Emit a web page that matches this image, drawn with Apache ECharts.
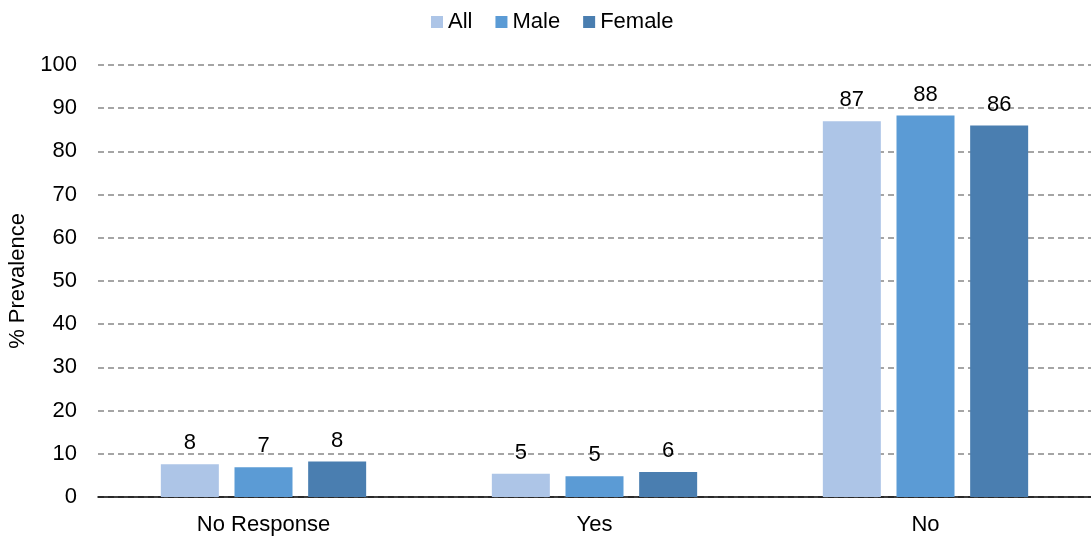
<!DOCTYPE html>
<html>
<head>
<meta charset="utf-8">
<script src="https://cdn.jsdelivr.net/npm/echarts@6/dist/echarts.min.js"></script>
<style>
html,body{margin:0;padding:0;background:#fff;}
#chart{width:1091px;height:538px;}
</style>
</head>
<body>
<div id="chart"></div>
<script>
const categories = ['No Response', 'Yes', 'No'];
const seriesNames = ['All', 'Male', 'Female'];
const allValues = [7.6, 5.4, 87.0];
const maleValues = [6.9, 4.8, 88.3];
const femaleValues = [8.2, 5.8, 86.0];
const colors = ['#ADC5E7', '#5B9BD5', '#4A7EB0'];

const font = 'Liberation Sans, Arial, sans-serif';
const fs = 22;
const chart = echarts.init(document.getElementById('chart'));
const seriesData = [allValues, maleValues, femaleValues];
chart.setOption({
  animation: false,
  textStyle: { fontFamily: font },
  legend: {
    top: 6,
    left: 426,
    itemWidth: 12,
    itemHeight: 12,
    itemGap: 23,
    icon: 'rect',
    textStyle: { fontSize: fs, color: '#000', fontFamily: font, padding: [0, 0, 0, 0] },
    data: seriesNames
  },
  grid: { left: 98, right: 0, top: 65, bottom: 41, outerBoundsMode: 'none' },
  xAxis: {
    type: 'category',
    data: categories,
    axisLine: { lineStyle: { color: '#000', width: 1.5 } },
    axisTick: { show: false },
    axisLabel: { fontSize: fs, color: '#000', margin: 17, fontFamily: font }
  },
  yAxis: {
    type: 'value',
    min: 0, max: 100, interval: 10,
    name: '% Prevalence',
    nameLocation: 'middle',
    nameGap: 65,
    nameTextStyle: { fontSize: fs, color: '#000', fontFamily: font },
    axisLine: { show: false },
    axisTick: { show: false },
    axisLabel: { fontSize: fs, color: '#000', margin: 21, fontFamily: font },
    splitLine: { lineStyle: { color: '#888', type: [6, 4], width: 1.5 } }
  },
  series: seriesNames.map((n, i) => ({
    name: n,
    type: 'bar',
    data: seriesData[i],
    barWidth: 58,
    barGap: '27%',
    itemStyle: { color: colors[i] },
    label: {
      show: true,
      position: 'top',
      distance: 10,
      fontSize: fs,
      color: '#000',
      fontFamily: font,
      formatter: p => Math.round(p.value)
    }
  }))
});
</script>
</body>
</html>
